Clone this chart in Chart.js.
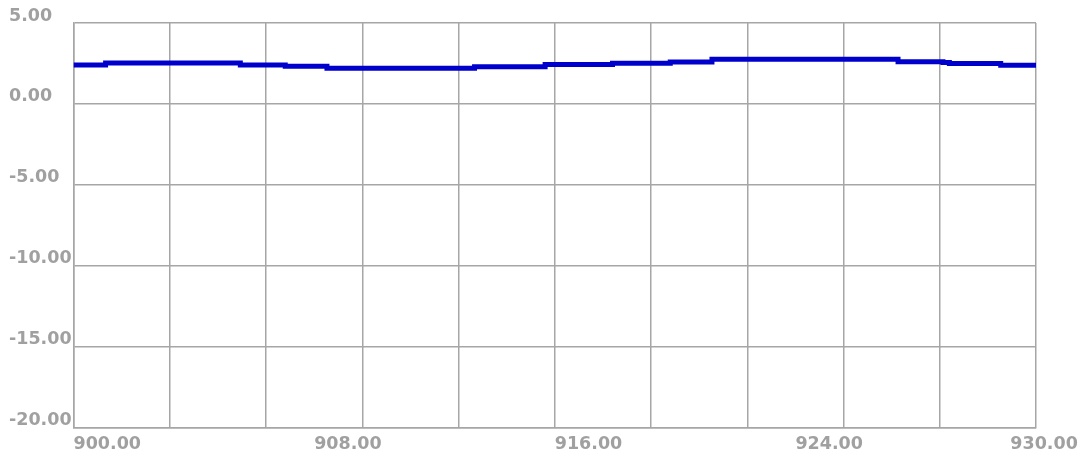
<!DOCTYPE html>
<html>
<head>
<meta charset="utf-8">
<title>Step chart</title>
<script src="https://cdn.jsdelivr.net/npm/chart.js@4.4.1/dist/chart.umd.min.js"></script>
<style>
  html, body { margin: 0; padding: 0; background: #fff; }
  #chart { display: block; }
</style>
</head>
<body>
<canvas id="chart" width="1084" height="458"></canvas>
<script>
// step start positions and the value held until the next step
const stepX = [900, 901.0, 905.2, 906.6, 907.9, 912.5, 914.7, 916.8, 918.6, 919.9, 925.7, 927.1, 927.3, 928.9, 930];
const stepY = [2.41, 2.53, 2.41, 2.33, 2.21, 2.30, 2.43, 2.51, 2.59, 2.76, 2.61, 2.56, 2.49, 2.39, 2.39];

const xTickLabels = ['900.00', '908.00', '916.00', '924.00', '930.00'];
const yMin = -20;
const yMax = 5;

const gray = '#a0a0a0';
const gridGray = '#a6a6a6';
const labelFont = { family: 'DejaVu Sans', size: 17.5, weight: 'bold' };

const points = stepX.map((x, i) => ({ x: x, y: stepY[i] }));

const ctx = document.getElementById('chart').getContext('2d');

new Chart(ctx, {
    type: 'line',
    data: {
        datasets: [{
            data: points,
            xAxisID: 'x',
            yAxisID: 'y',
            stepped: true,
            borderColor: '#0000cd',
            borderWidth: 5,
            borderCapStyle: 'butt',
            pointRadius: 0,
            fill: false
        }]
    },
    options: {
        responsive: false,
        animation: false,
        layout: {
            padding: { left: 9, right: 48, top: 23, bottom: 0 }
        },
        plugins: {
            legend: { display: false },
            tooltip: { enabled: false }
        },
        scales: {
            x: {
                type: 'linear',
                position: 'bottom',
                min: 900,
                max: 930,
                ticks: { stepSize: 3, display: false },
                grid: { color: gridGray, lineWidth: 1.5, drawTicks: false },
                border: { color: gridGray, width: 1.5 }
            },
            xl: {
                type: 'linear',
                position: 'bottom',
                min: 900,
                max: 930,
                afterBuildTicks: (scale) => {
                    // labels every quarter; last one pulled back so it stays on the canvas
                    scale.ticks = xTickLabels.map((l, i) => ({ value: i < 4 ? 900 + i * 7.5 : 929.2 }));
                },
                afterFit: (scale) => {
                    scale.paddingLeft = 0;
                    scale.paddingRight = 0;
                    scale.height = 30.5;
                },
                ticks: {
                    align: 'start',
                    autoSkip: false,
                    maxRotation: 0,
                    padding: 6,
                    color: gray,
                    font: labelFont,
                    callback: (v, i) => xTickLabels[i]
                },
                grid: { display: false, drawTicks: false },
                border: { display: false }
            },
            y: {
                type: 'linear',
                min: yMin,
                max: yMax,
                afterFit: (scale) => {
                    scale.width = 64.5;
                },
                ticks: {
                    stepSize: 5,
                    crossAlign: 'far',
                    labelOffset: -7,
                    color: gray,
                    font: labelFont,
                    callback: (v) => v.toFixed(2)
                },
                grid: { color: gridGray, lineWidth: 1.5, drawTicks: false },
                border: { color: gridGray, width: 1.5 }
            }
        }
    }
});
</script>
</body>
</html>
